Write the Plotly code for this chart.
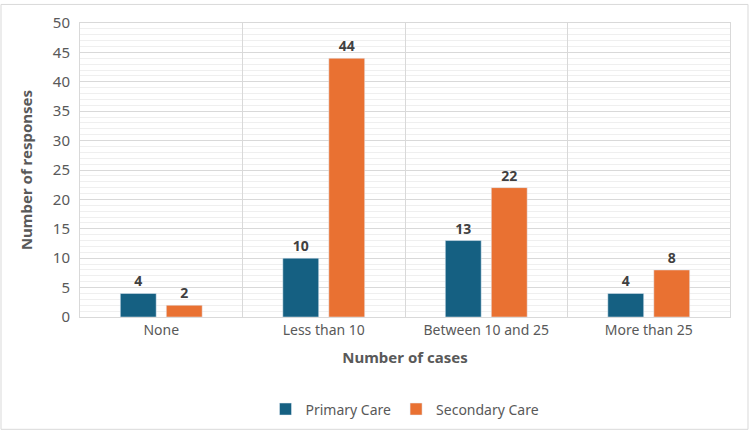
import plotly.graph_objects as go

categories = ["None", "Less than 10", "Between 10 and 25", "More than 25"]
primary = [4, 10, 13, 4]
secondary = [2, 44, 22, 8]
series_names = ["Primary Care", "Secondary Care"]
colors = ["#156082", "#E97132"]

FONT = "Noto Sans"
fig = go.Figure()
for name, vals, col in zip(series_names, [primary, secondary], colors):
    fig.add_trace(go.Bar(
        x=categories, y=vals, name=name, marker_color=col,
        text=[str(v) for v in vals], textposition="outside",
        textfont=dict(family=FONT, size=14, color="#404040", weight="bold"),
        cliponaxis=False,
    ))

L, R, T, B = 80, 20, 20, 117
W, H = 750, 438
pw, ph = W - L - R, H - T - B
fig.update_layout(
    width=W, height=H,
    margin=dict(l=L, r=R, t=T, b=B),
    paper_bgcolor="white", plot_bgcolor="white",
    barmode="group", bargap=0.434, bargroupgap=0.22,
    font=dict(family=FONT, color="#595959", size=14),
    legend=dict(orientation="h", x=0.5, xanchor="center", y=-0.26, yanchor="top",
                font=dict(size=14, color="#595959"), itemwidth=30, traceorder="normal"),
    xaxis=dict(
        tickson="boundaries", showgrid=True, gridcolor="#d9d9d9", gridwidth=1,
        ticks="", showline=True, linecolor="#d9d9d9", mirror=True,
        tickfont=dict(size=14, color="#595959"),
        title=dict(text="Number of cases", font=dict(size=15, color="#595959", weight="bold"), standoff=14),
    ),
    yaxis=dict(
        range=[0, 50], dtick=5, showgrid=True, gridcolor="#d9d9d9", gridwidth=1,
        minor=dict(dtick=1, showgrid=True, gridcolor="#efefef", gridwidth=1),
        showline=True, linecolor="#d9d9d9", mirror=True, zeroline=False,
        tickfont=dict(size=15, color="#595959"), ticks="", ticklabelstandoff=6,
        title=dict(text="Number of responses", font=dict(size=15, color="#595959", weight="bold"), standoff=16),
    ),
    shapes=[dict(
        type="rect", xref="paper", yref="paper",
        x0=(1 - L) / pw, x1=(W - 2 - L) / pw,
        y0=-(H - 2 - (H - B)) / ph, y1=1 + (T - 1) / ph,
        line=dict(color="#d9d9d9", width=1), layer="below",
    )],
)
fig.write_html("out.html", config={"displayModeBar": False},
               post_script="document.body.style.margin='0';document.body.style.overflow='hidden';")
